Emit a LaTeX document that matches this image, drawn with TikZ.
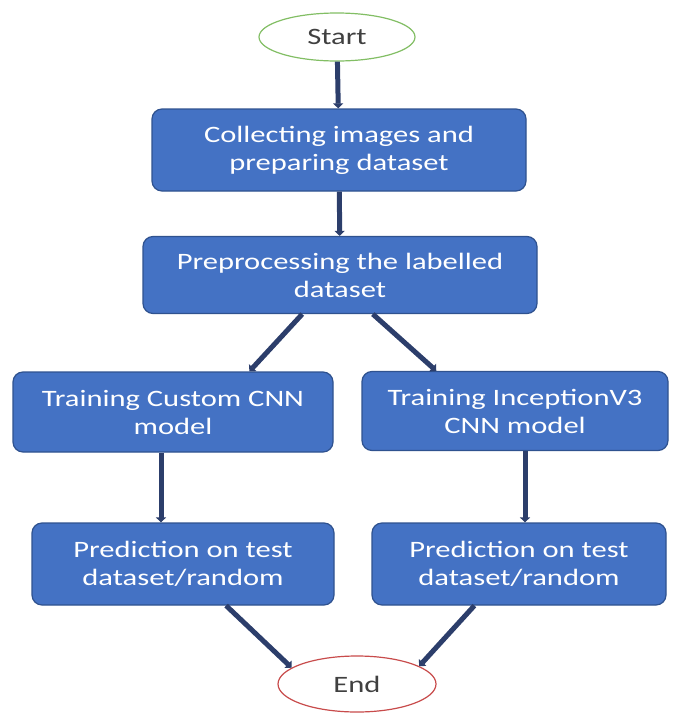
\documentclass[tikz,border=0pt]{standalone}
\usepackage{fontspec}
\setmainfont{Carlito}[FakeStretch=1.3]
\usepackage{xcolor}
\usepackage{tikz}
\usetikzlibrary{arrows.meta,shapes.geometric}
\definecolor{AzulCaja}{RGB}{68,114,196}
\definecolor{BordeCaja}{RGB}{47,82,143}
\definecolor{AzulFlecha}{RGB}{44,62,107}
\definecolor{VerdeInicio}{RGB}{130,190,100}
\definecolor{RojoFin}{RGB}{200,75,75}

\begin{document}
\begin{tikzpicture}[>={Triangle[width=10pt,length=5pt]},x=1pt,y=-1pt,
  caja/.style={draw=BordeCaja,line width=1.2pt,fill=AzulCaja,rounded corners=10pt,
    text=white,align=center,inner sep=0pt,font=\fontsize{23.5}{28}\selectfont},
  extremo/.style={ellipse,line width=1.2pt,fill=white,inner sep=0pt,
    text=black!75,font=\fontsize{23.5}{28}\selectfont},
  flecha/.style={->,line width=5pt,AzulFlecha}]
  \useasboundingbox (0,0) rectangle (675,715);
  \node[extremo,draw=VerdeInicio,minimum width=156pt,minimum height=48pt] (inicio) at (337,37) {Start};
  \node[caja,minimum width=374pt,minimum height=82pt] (recoleccion) at (339,150) {Collecting images and\\preparing dataset};
  \node[caja,minimum width=394pt,minimum height=77pt] (preproceso) at (340,275) {Preprocessing the labelled\\dataset};
  \node[caja,minimum width=320pt,minimum height=80pt] (custom) at (173,412) {Training Custom CNN\\model};
  \node[caja,minimum width=306pt,minimum height=79pt] (inception) at (515,411) {Training InceptionV3\\CNN model};
  \node[caja,minimum width=302pt,minimum height=82pt] (predA) at (183,564) {Prediction on test\\dataset/random};
  \node[caja,minimum width=294pt,minimum height=82pt] (predB) at (519,564) {Prediction on test\\dataset/random};
  \node[extremo,draw=RojoFin,minimum width=158pt,minimum height=56pt] (fin) at (357,684) {End};
  \draw[flecha] (inicio) -- (recoleccion);
  \draw[flecha] (recoleccion) -- (preproceso);
  \draw[flecha] (preproceso.226) -- (custom.28);
  \draw[flecha] (preproceso.310) -- (inception.153);
  \draw[flecha] (custom.south -| 161,0) -- (predA.north -| 161,0);
  \draw[flecha] (inception.south -| 525,0) -- (predB.north -| 525,0);
  \draw[flecha] (predA.316) -- (fin.166);
  \draw[flecha] (predB.223) -- (fin.16);
\end{tikzpicture}
\end{document}
